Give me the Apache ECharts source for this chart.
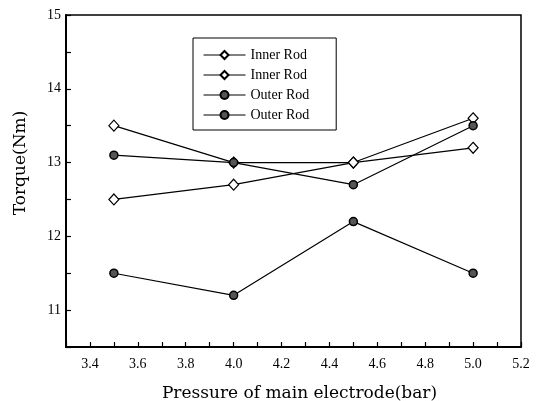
<!DOCTYPE html>
<html>
<head>
<meta charset="utf-8">
<script src="https://cdn.jsdelivr.net/npm/echarts@6/dist/echarts.min.js"></script>
<style>html,body{margin:0;padding:0;background:#fff}#c{width:538px;height:401px}</style>
</head>
<body>
<div id="c"></div>
<script>
const pressures = [3.5, 4.0, 4.5, 5.0];
const innerRodA = [12.5, 12.7, 13.0, 13.6];
const innerRodB = [13.5, 13.0, 13.0, 13.2];
const outerRodA = [13.1, 13.0, 12.7, 13.5];
const outerRodB = [11.5, 11.2, 12.2, 11.5];
const seriesNames = ['Inner Rod', 'Inner Rod', 'Outer Rod', 'Outer Rod'];

const font = '"Liberation Serif", "DejaVu Serif", serif';
const titleFont = '"DejaVu Serif", "Liberation Serif", serif';
const pair = arr => pressures.map((x, i) => [x, arr[i]]);

const diamondStyle = { color: '#fff', borderColor: '#000', borderWidth: 1.2 };
const circleStyle = { color: '#555', borderColor: '#000', borderWidth: 1.5 };

// unique internal keys, displayed names come from seriesNames
const keys = ['Inner Rod', 'Inner Rod ', 'Outer Rod', 'Outer Rod '];

function mk(key, data, isDiamond) {
  return {
    name: key,
    type: 'line',
    data: pair(data),
    symbol: isDiamond ? 'diamond' : 'circle',
    symbolSize: isDiamond ? [10, 11] : 8,
    lineStyle: { color: '#000', width: 1.2 },
    itemStyle: isDiamond ? diamondStyle : circleStyle,
    animation: false
  };
}

const chart = echarts.init(document.getElementById('c'));
chart.setOption({
  backgroundColor: '#fff',
  animation: false,
  grid: { left: 66, top: 15, right: 17, bottom: 54, show: true, borderColor: '#000', borderWidth: 1.5,
          outerBoundsMode: 'none', containLabel: false },
  legend: {
    left: 193, top: 38,
    orient: 'vertical',
    padding: [10, 27, 8, 10],
    itemGap: 6,
    itemWidth: 42, itemHeight: 10,
    borderColor: '#000', borderWidth: 1,
    backgroundColor: '#fff',
    textStyle: { fontFamily: font, fontSize: 14, color: '#000' },
    lineStyle: { width: 1 },
    data: keys.map(k => ({ name: k })),
    formatter: n => seriesNames[keys.indexOf(n)]
  },
  xAxis: {
    type: 'value', min: 3.3, max: 5.2, interval: 0.1,
    name: 'Pressure of main electrode(bar)', nameLocation: 'middle', nameGap: 38,
    nameTextStyle: { fontFamily: titleFont, fontSize: 17, color: '#000', padding: [0, 0, 0, 12] },
    axisLine: { lineStyle: { color: '#000', width: 2 } },
    axisTick: { inside: true, length: 5, lineStyle: { color: '#000', width: 1.2 } },
    splitLine: { show: false },
    axisLabel: {
      fontFamily: font, fontSize: 14, color: '#000', margin: 10,
      formatter: v => (Math.round(v * 10) % 2 === 0 ? v.toFixed(1) : '')
    }
  },
  yAxis: {
    type: 'value', min: 10.5, max: 15, interval: 0.5,
    name: 'Torque(Nm)', nameLocation: 'middle', nameGap: 37,
    nameTextStyle: { fontFamily: titleFont, fontSize: 17, color: '#000', padding: [0, 0, 0, 36] },
    axisLine: { show: true, lineStyle: { color: '#000', width: 2 } },
    axisTick: { show: true, inside: true, length: 5, lineStyle: { color: '#000', width: 1.2 } },
    splitLine: { show: false },
    axisLabel: {
      fontFamily: font, fontSize: 14, color: '#000', margin: 5,
      formatter: v => (Math.abs(v - Math.round(v)) < 1e-6 ? String(Math.round(v)) : '')
    }
  },
  series: [
    mk(keys[0], innerRodA, true),
    mk(keys[1], innerRodB, true),
    mk(keys[2], outerRodA, false),
    mk(keys[3], outerRodB, false)
  ]
});
</script>
</body>
</html>
